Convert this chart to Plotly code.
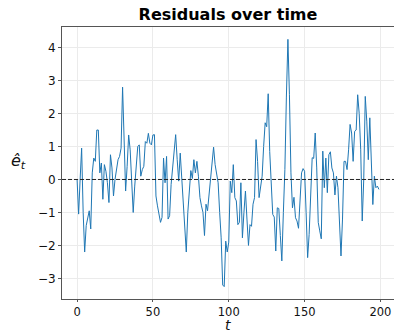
import plotly.graph_objects as go

t = list(range(200))
residuals = [
    0.0, -1.05, 0.0, 0.95, -1.0, -2.2, -1.4, -1.2, -0.95, -1.5,
    0.2, 0.65, 0.55, 1.5, 1.5, 0.2, 0.5, -0.6, 0.45, 0.25,
    -0.1, -0.7, 0.75, 0.35, -0.5, 0.0, 0.3, 0.6, 0.7, 0.95,
    2.8, 1.0, -0.35, 0.4, 1.35, 0.9, 0.0, -1.0, -0.2, 0.5,
    1.0, 1.05, 0.1, 0.3, 0.4, 1.15, 1.1, 1.4, 1.1, 1.05,
    1.35, 1.36, -0.5, -0.8, -1.05, -1.3, -1.15, 0.65, -0.1, 0.7,
    -1.2, -1.1, -0.15, 0.4, 0.9, 1.36, 0.6, -0.05, 0.8, 0.05,
    -1.0, -1.7, -2.2, -1.0, -0.3, 0.27, 0.03, 0.6, 0.2, 0.55,
    0.1, -0.55, -0.8, -1.0, -1.7, -0.75, -0.95, -0.4, 0.1, 0.5,
    0.98, 0.45, 0.1, -0.1, -1.0, -1.77, -3.2, -3.25, -1.87, -2.2,
    -1.9, -0.05, -0.4, 0.45, -0.55, -0.65, -1.37, -1.3, -0.1, -1.77,
    -1.0, -0.35, -1.2, -2.0, -1.37, -1.42, -0.75, -0.55, 1.21, 0.55,
    -0.55, -0.2, 0.1, 1.0, 1.72, 1.6, 2.6, 0.85, -0.1, -1.06,
    -1.14, -2.17, -0.86, -0.88, -1.7, -2.47, -1.0, 0.3, 2.5, 4.25,
    2.57, 0.2, -0.86, -0.54, -1.16, -1.26, -1.48, -0.5, 0.2, 0.33,
    0.25, -1.0, -2.37, -1.67, -0.4, 0.66, 0.64, 1.41, 0.35, -1.3,
    -1.56, -1.8, 0.86, -0.25, 0.65, -0.4, 0.75, 0.84, 0.35, 0.2,
    -0.47, 0.1, -0.25, -1.3, -2.32, -1.2, 0.55, 0.55, 0.3, 0.9,
    1.67, 1.41, 0.55, 1.46, 1.5, 2.57, 2.0, 0.9, -1.26, 0.0,
    2.52, 1.77, 0.6, 1.87, 0.45, -0.76, 0.1, -0.25, -0.2, -0.3,
]
x_ticks = [0, 50, 100, 150, 200]
y_ticks = [-3, -2, -1, 0, 1, 2, 3, 4]

font_family = "DejaVu Sans"
spine = "#555555"

fig = go.Figure()
fig.add_trace(go.Scatter(x=t, y=residuals, mode="lines",
                         line=dict(color="#1f77b4", width=1), showlegend=False,
                         hoverinfo="skip"))

fig.add_shape(type="line", xref="paper", yref="y", x0=0, x1=1, y0=0, y1=0,
              line=dict(color="#222222", width=1, dash="4px,2px"))

fig.update_layout(
    width=394, height=334,
    margin=dict(l=62, r=0, t=27, b=35),
    paper_bgcolor="white", plot_bgcolor="white",
    font=dict(family=font_family, size=12, color="#111111"),
    title=dict(text="<b>Residuals over time</b>", x=(62 + 394) / 2 / 394, xanchor="center",
               y=1 - 14 / 334, yanchor="middle",
               font=dict(family=font_family, size=16, color="#000000")),
    xaxis=dict(range=[-9.95, 208.95], tickvals=x_ticks, showgrid=True,
               gridcolor="#ebebeb", gridwidth=1, zeroline=False,
               showline=True, linecolor=spine, linewidth=1, mirror=True,
               ticks="outside", ticklen=2, tickcolor=spine,
               tickfont=dict(size=11.5)),
    yaxis=dict(range=[-3.625, 4.625], tickvals=y_ticks, showgrid=True,
               gridcolor="#ebebeb", gridwidth=1, zeroline=False,
               showline=True, linecolor=spine, linewidth=1, mirror=False,
               ticks="outside", ticklen=3, tickcolor=spine),
)

# axis titles placed in pixel-equivalent paper coordinates
fig.add_annotation(text="<i>t</i>", xref="paper", yref="paper",
                   x=0.5, y=(299 - 334) / 272, xanchor="center", yanchor="bottom",
                   borderpad=0, showarrow=False,
                   font=dict(family=font_family, size=14, color="#111111"))
fig.add_annotation(text="<i>ê</i><sub><i>t</i></sub>", xref="paper", yref="paper",
                   x=-44 / 332, y=(299.5 - 162) / 272.5, xanchor="center", yanchor="middle",
                   showarrow=False, font=dict(family=font_family, size=16, color="#111111"))

fig.write_html("out.html")
